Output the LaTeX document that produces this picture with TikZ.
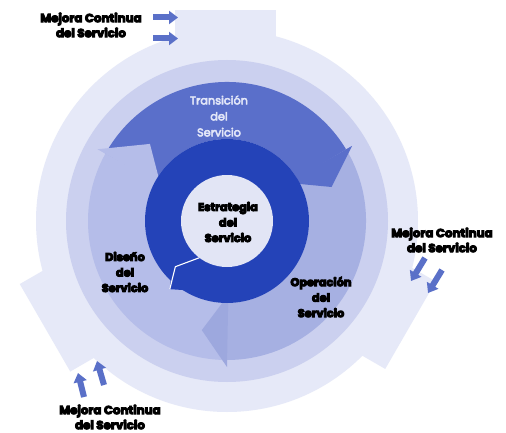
\documentclass[tikz,border=0pt]{standalone}
\usepackage{fontspec}
\setmainfont{Poppins}
\usetikzlibrary{arrows.meta}
\definecolor{outerc}{HTML}{E6E9F8}
\definecolor{ringc}{HTML}{CBD0EF}
\definecolor{transc}{HTML}{5A6FCA}
\definecolor{operc}{HTML}{A6B0E2}
\definecolor{operhead}{HTML}{9DA8DE}
\definecolor{disc}{HTML}{B5BDE9}
\definecolor{darkc}{HTML}{2443B8}
\definecolor{centerc}{HTML}{E2E5F5}
\definecolor{arrc}{HTML}{5A70C8}
\definecolor{transtext}{HTML}{E2E6F8}
\newcommand\bandseg[3]{\fill[#1] (#2:139) arc[start angle=#2, end angle=#3, radius=139] -- (#3:82) arc[start angle=#3, end angle=#2, radius=82] -- cycle;}
\tikzset{
  smallarrow/.style={draw=arrc, line width=6pt, -{Triangle[length=9pt,width=13pt]}},
  heavytext/.style={execute at begin node={\special{pdf:literal direct 2 Tr #1 w}}, execute at end node={\special{pdf:literal direct 0 Tr}}},
  boldlabel/.style={align=center, text=black, font=\fontsize{11.3}{15.5}\selectfont\bfseries, inner sep=0pt, heavytext=0.95},
  csilabel/.style={align=center, text=black, font=\fontsize{11.8}{15}\selectfont\bfseries, inner sep=0pt, heavytext=0.95},
  translabel/.style={align=center, text=transtext, font=\fontsize{11.3}{16}\selectfont, inner sep=0pt, heavytext=0.5}
}
\begin{document}
\begin{tikzpicture}[x=1pt,y=-1pt]
\useasboundingbox (0,0) rectangle (506,433);
\fill[white] (0,0) rectangle (506,433);
\coordinate (C) at (227,221);
\begin{scope}[shift={(C)}, yscale=-1]
  % outer continual improvement ring with three tabs
  \fill[outerc] (0,0) circle[radius=191];
  \foreach \r in {0,-120,120} { \fill[outerc, rotate=\r] (-52,150) rectangle (49,211); }
  \fill[ringc] (0,0) circle[radius=161];
  % middle band: three arrows
  \bandseg{transc}{151}{31}
  \bandseg{operc}{31}{-90}
  \bandseg{disc}{-90}{-209}
  \fill[transc] (31:146) -- (18:110) -- (32:72) -- cycle;
  \fill[operhead] (-90:146) -- (-103:112) -- (-89:74) -- cycle;
  \fill[disc] (151:148) -- (135:109) -- (152:75) -- cycle;
  % dark ring
  \fill[darkc] (0,0) circle[radius=82];
  \fill[darkc] (221.5:74) -- (230:89) -- (240:80) -- cycle;
  \fill[centerc] (0,0) circle[radius=46];
  \draw[white, line width=1.1pt] (233:46) -- (221.5:69) -- (230:89);
\end{scope}
% small arrows
\coordinate (a1t) at (153,17.5); \coordinate (a1h) at (178,17.5);
\coordinate (a2t) at (153,38.5); \coordinate (a2h) at (178,38.5);
\coordinate (b1t) at (425,258); \coordinate (b1h) at (411,281);
\coordinate (b2t) at (442,270); \coordinate (b2h) at (428,293);
\coordinate (c1t) at (84,397); \coordinate (c1h) at (78,373);
\coordinate (c2t) at (104,385); \coordinate (c2h) at (97,361);
\draw[smallarrow] (a1t) -- (a1h);
\draw[smallarrow] (a2t) -- (a2h);
\draw[smallarrow] (b1t) -- (b1h);
\draw[smallarrow] (b2t) -- (b2h);
\draw[smallarrow] (c1t) -- (c1h);
\draw[smallarrow] (c2t) -- (c2h);
% labels
\node[csilabel] (csi1) at (91,25) {Mejora Continua\\del Servicio};
\node[csilabel] (csi2) at (442,240) {Mejora Continua\\del Servicio};
\node[csilabel] (csi3) at (110,417) {Mejora Continua\\del Servicio};
\node[boldlabel] (est) at (228,222) {Estrategia\\del\\Servicio};
\node[boldlabel] (dis) at (125,272) {Diseño\\del\\Servicio};
\node[boldlabel] (ope) at (321,297) {Operación\\del\\Servicio};
\node[translabel] (tra) at (219,116) {Transición\\del\\Servicio};
\end{tikzpicture}
\end{document}
